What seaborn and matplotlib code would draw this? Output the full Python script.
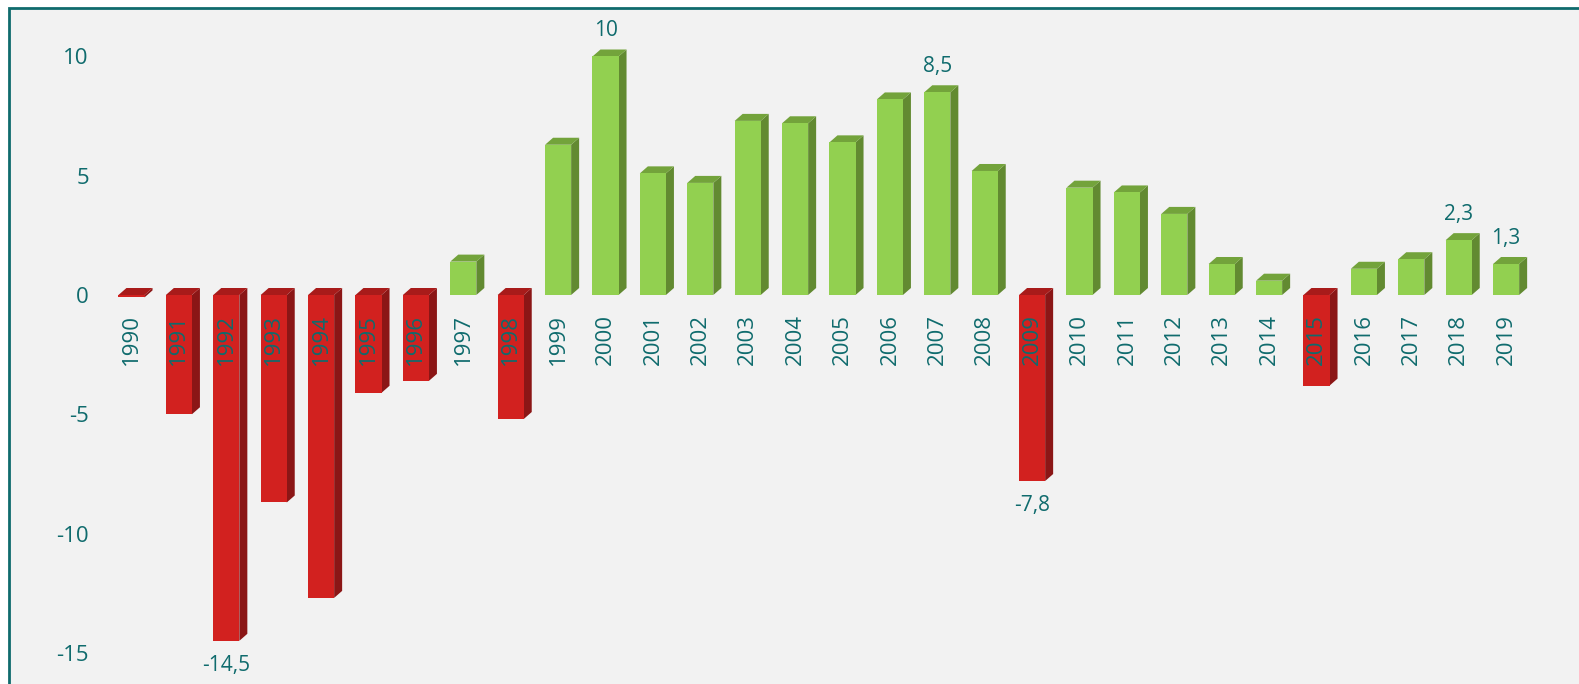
import numpy as np
import pandas as pd
import seaborn as sns
import matplotlib.pyplot as plt
from matplotlib.patches import Polygon, Rectangle

# data
years = list(range(1990, 2020))
growth = [-0.1, -5.0, -14.5, -8.7, -12.7, -4.1, -3.6, 1.4, -5.2, 6.3,
          10.0, 5.1, 4.7, 7.3, 7.2, 6.4, 8.2, 8.5, 5.2, -7.8,
          4.5, 4.3, 3.4, 1.3, 0.6, -3.8, 1.1, 1.5, 2.3, 1.3]
labelled_years = [1992, 2000, 2007, 2009, 2018, 2019]
y_ticks = [-15, -10, -5, 0, 5, 10]

teal = "#0f6b6d"
red_front, red_side, red_top = "#d2211f", "#8b1616", "#a81b1a"
green_front, green_side, green_top = "#92d050", "#628a31", "#73a33b"

df = pd.DataFrame({"year": [str(y) for y in years], "value": growth})
df["sign"] = np.where(df["value"] < 0, "neg", "pos")

sns.set_style("white")
plt.rcParams["font.family"] = ["Open Sans", "DejaVu Sans"]

W, H = 1579, 684
fig = plt.figure(figsize=(W / 100, H / 100), dpi=100, facecolor="white")

# teal frame with light grey panel
fig.patches.append(Rectangle((9 / W, -0.05), 1.2, (H - 8) / H + 0.05, transform=fig.transFigure,
                             facecolor="#f2f2f2", edgecolor=teal, linewidth=2, zorder=-10))

ax = fig.add_axes([100 / W, 0, 1460 / W, (H - 10) / H])
ax.set_facecolor("none")

sns.barplot(data=df, x="year", y="value", hue="sign",
            palette={"neg": red_front, "pos": green_front}, saturation=1,
            dodge=False, width=0.55, legend=False, ax=ax,
            edgecolor="none", linewidth=0, zorder=2)

# axis mapping: bar i front centre at 131.5 + 47.4*i px, 23.85 px per unit, zero at 295 px
px_x, px_y, zero_px = 47.4, 23.85, 295
ax.set_xlim((100 - 131.5) / px_x, (1560 - 131.5) / px_x)
ax.set_ylim(-(H - zero_px) / px_y, (zero_px - 10) / px_y)

# pseudo-3D depth faces
dx, dy = 8 / px_x, 7 / px_y
for p in ax.patches:
    x0 = p.get_x()
    x1 = x0 + p.get_width()
    h = p.get_height()
    y0 = p.get_y()
    lo, hi = min(y0, y0 + h), max(y0, y0 + h)
    neg = h < 0
    side_c = red_side if neg else green_side
    top_c = red_top if neg else green_top
    ax.add_patch(Polygon([(x1, lo), (x1 + dx, lo + dy), (x1 + dx, hi + dy), (x1, hi)],
                         closed=True, facecolor=side_c, edgecolor="none", zorder=1.9))
    ax.add_patch(Polygon([(x0, hi), (x0 + dx, hi + dy), (x1 + dx, hi + dy), (x1, hi)],
                         closed=True, facecolor=top_c, edgecolor="none", zorder=1.9))

# year labels under the zero line
for i, y in enumerate(years):
    ax.text(i, -0.8, str(y), rotation=90, ha="center", va="top",
            fontsize=16, color=teal, zorder=5)

# value labels
for i, (y, v) in enumerate(zip(years, growth)):
    if y in labelled_years:
        txt = f"{v:g}".replace(".", ",")
        if v >= 0:
            ax.text(i, v + dy + 0.35, txt, ha="center", va="bottom", fontsize=15, color=teal, zorder=5)
        else:
            ax.text(i, v - 0.6, txt, ha="center", va="top", fontsize=15, color=teal, zorder=5)

ax.set_xticks([])
ax.set_yticks(y_ticks)
ax.set_yticklabels([str(t) for t in y_ticks], fontsize=16, color=teal)
ax.tick_params(axis="y", length=0, pad=8)
ax.set_xlabel("")
ax.set_ylabel("")
for s in ax.spines.values():
    s.set_visible(False)

fig.savefig("out.png", dpi=100, facecolor="white")
